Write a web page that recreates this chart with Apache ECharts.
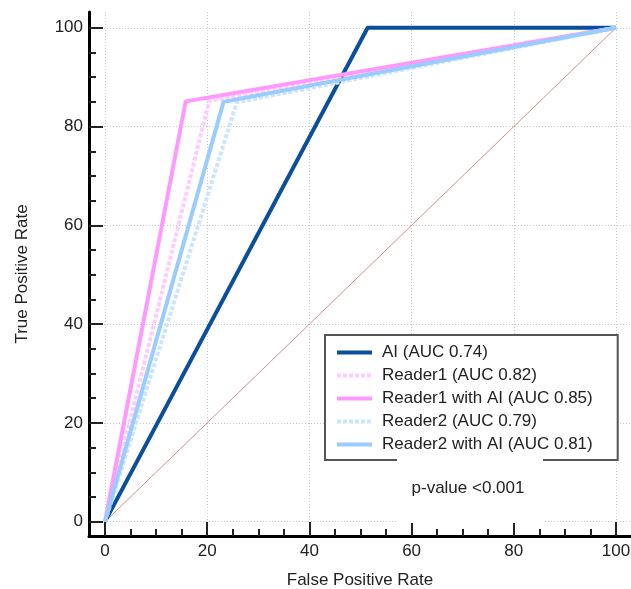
<!DOCTYPE html>
<html>
<head>
<meta charset="utf-8">
<script src="https://cdn.jsdelivr.net/npm/echarts@6/dist/echarts.min.js"></script>
<style>html,body{margin:0;padding:0;background:#fff}#c{width:631px;height:589px}</style>
</head>
<body>
<div id="c"></div>
<script>
// ---- data ----
var seriesNames = ['AI (AUC 0.74)', 'Reader1 (AUC 0.82)', 'Reader1 with AI (AUC 0.85)', 'Reader2 (AUC 0.79)', 'Reader2 with AI (AUC 0.81)'];
var aiFpr = [0, 51.4, 100];
var aiTpr = [0, 100, 100];
var reader1Fpr = [0, 20.4, 100];
var reader1Tpr = [0, 85.2, 100];
var reader1AiFpr = [0, 15.8, 100];
var reader1AiTpr = [0, 85.1, 100];
var reader2Fpr = [0, 25.8, 100];
var reader2Tpr = [0, 84.9, 100];
var reader2AiFpr = [0, 23.2, 100];
var reader2AiTpr = [0, 85.0, 100];
var chanceFpr = [0, 100];
var chanceTpr = [0, 100];
var majorTicks = [0, 20, 40, 60, 80, 100];
var minorTicks = [0, 5, 10, 15, 20, 25, 30, 35, 40, 45, 50, 55, 60, 65, 70, 75, 80, 85, 90, 95, 100];
var pValueText = 'p-value <0.001';

function pts(xs, ys) { return xs.map(function (x, i) { return [x, ys[i]]; }); }

var font = 'Liberation Sans, Arial, sans-serif';
var FS = 17;
var chart = echarts.init(document.getElementById('c'), null, {renderer: 'canvas'});

function majorAxis(isX) {
  return {
    type: 'value', gridIndex: 0, position: isX ? 'bottom' : 'left', offset: 0,
    min: isX ? -3.13 : -2.9, max: isX ? 102.94 : 103.2,
    name: isX ? 'False Positive Rate' : 'True Positive Rate',
    nameLocation: 'middle', nameGap: isX ? 36 : 58,
    nameTextStyle: {fontFamily: font, fontSize: FS, color: '#222'},
    axisLine: {show: true, onZero: false, lineStyle: {color: '#000', width: 3}},
    axisTick: {show: true, inside: true, length: 14, customValues: majorTicks, lineStyle: {color: '#222', width: 2}},
    axisLabel: {show: true, customValues: majorTicks, margin: isX ? 7 : 6, fontFamily: font, fontSize: FS, color: '#222'},
    splitLine: {show: true, lineStyle: {color: '#c8c8c8', width: 1, type: [1, 2]}}
  };
}
function minorAxis(isX) {
  return {
    type: 'value', gridIndex: 0, position: isX ? 'bottom' : 'left', offset: 0,
    min: isX ? -3.13 : -2.9, max: isX ? 102.94 : 103.2,
    axisLine: {show: false, onZero: false},
    axisTick: {show: true, inside: true, length: 7, customValues: minorTicks, lineStyle: {color: '#222', width: 2}},
    axisLabel: {show: false},
    splitLine: {show: false}
  };
}

var colors = ['#0b4f9c', '#ffccff', '#ff99ff', '#cce5ff', '#99ccff'];
var dataSets = [pts(aiFpr, aiTpr), pts(reader1Fpr, reader1Tpr), pts(reader1AiFpr, reader1AiTpr), pts(reader2Fpr, reader2Tpr), pts(reader2AiFpr, reader2AiTpr)];
var dotted = [false, true, false, true, false];

var series = [{
  name: 'chance', type: 'line', data: pts(chanceFpr, chanceTpr), symbol: 'none', silent: true,
  lineStyle: {color: '#b86060', width: 0.7}, z: 1
}];
seriesNames.forEach(function (n, i) {
  series.push({
    name: n, type: 'line', data: dataSets[i], symbol: 'none', animation: false,
    lineStyle: {color: colors[i], width: 4, type: dotted[i] ? [4, 2] : 'solid'},
    itemStyle: {color: colors[i]}, z: 2 + i
  });
});

chart.setOption({
  animation: false,
  backgroundColor: '#fff',
  grid: {left: 89, right: 0, top: 12, bottom: 53, containLabel: false, outerBoundsMode: 'none'},
  xAxis: [majorAxis(true), minorAxis(true)],
  yAxis: [majorAxis(false), minorAxis(false)],
  legend: {
    data: seriesNames, orient: 'vertical', left: 325, top: 335,
    padding: [9, 25, 7, 10], itemGap: 6, itemWidth: 35, itemHeight: 14,
    backgroundColor: '#fff', borderColor: '#555', borderWidth: 2,
    itemStyle: {opacity: 0},
    lineStyle: {opacity: 1, width: 4},
    textStyle: {fontFamily: font, fontSize: FS, color: '#222', padding: [0, 0, 0, 5]},
    selectedMode: false
  },
  graphic: [
    {type: 'rect', left: 397, top: 459, shape: {width: 146, height: 64}, style: {fill: '#fff'}, z: 100},
    {type: 'text', x: 468, y: 488, style: {text: pValueText, font: FS + 'px ' + font, fill: '#222', align: 'center', verticalAlign: 'middle'}, z: 101}
  ],
  series: series
});
</script>
</body>
</html>
